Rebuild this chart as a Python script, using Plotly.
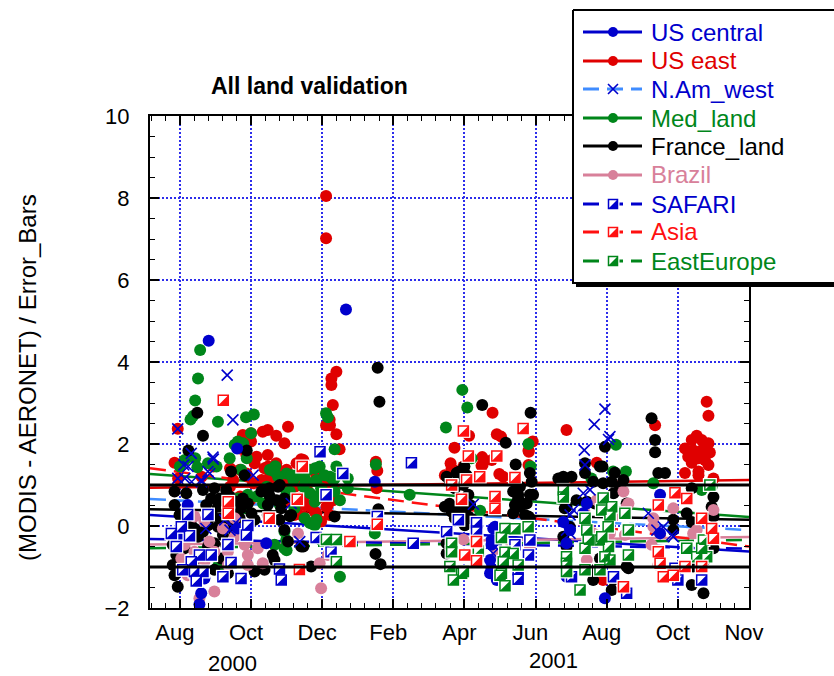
import plotly.graph_objects as go

# ---------------------------------------------------------------------------
# Data: x = months since 1 Aug 2000, y = (MODIS - AERONET) / error bar
# ---------------------------------------------------------------------------
US_CENTRAL = [
    (0.81, 4.52), (4.67, 5.28), (1.61, 1.89), (5.48, 1.08), (2.43, -0.42), (0.60, -1.64),
    (0.55, -1.91), (0.22, 0.51), (0.04, -0.22), (0.69, -1.28), (1.63, -0.06), (0.32, -0.87),
    (8.81, -0.06), (8.72, -1.15), (8.91, -1.32), (8.77, -0.34), (8.72, -0.83), (8.76, -1.03),
    (8.76, -0.46), (8.86, -0.02), (10.78, 0.10), (10.97, -0.10), (10.87, -0.42), (11.44, 0.55),
    (11.34, 0.31), (10.87, -1.24), (11.95, -1.76), (13.50, 0.76), (13.50, -0.18),
]

US_EAST = [
    (-0.06, 2.37), (1.77, 2.22), (2.00, 2.26), (2.33, 2.30), (2.47, 2.34), (2.71, 2.20),
    (2.94, 2.02), (3.04, 2.42), (2.00, 2.06), (4.40, 3.76), (4.26, 3.60), (4.26, 3.44),
    (4.30, 2.95), (4.21, 2.59), (4.11, 2.46), (4.40, 2.24), (4.22, 2.46), (4.11, 8.05),
    (4.11, 7.02), (-0.15, 1.54), (2.47, 1.73), (2.71, 1.53), (2.38, 1.41), (2.10, 1.53),
    (4.49, 1.87), (3.41, 1.63), (-0.05, 1.16), (0.61, 1.20), (0.94, 1.45), (1.41, 1.41),
    (1.69, 1.89), (1.87, 1.73), (2.16, 1.69), (2.48, 1.45), (2.72, 1.41), (3.00, 1.37),
    (3.28, 1.53), (3.47, 1.61), (3.66, 1.37), (3.84, 1.20), (4.03, 1.08), (4.31, 0.96),
    (3.37, 1.12), (3.23, 0.96), (3.00, 1.08), (2.76, 1.08), (2.53, 1.20), (2.30, 1.12),
    (2.06, 1.04), (1.87, 1.28), (1.69, 1.37), (1.50, 1.12), (1.41, 0.96), (3.47, 0.63),
    (3.66, 0.47), (3.28, 0.39), (3.00, 0.63), (3.84, 0.31), (3.47, 0.23), (4.12, 0.47),
    (4.31, 0.63), (1.69, 0.72), (1.41, 0.63), (1.97, 0.63), (3.04, 1.16), (3.32, 1.00),
    (3.60, 0.84), (3.88, 0.67), (4.16, 0.51), (3.51, 0.51), (3.79, 0.35), (3.22, 0.27),
    (3.97, 0.11), (4.21, 0.27), (3.69, 0.07), (3.36, 0.67), (3.04, 0.59), (2.66, 1.16),
    (1.44, 1.37), (1.91, 1.20), (2.38, 1.08), (5.51, 1.57), (5.55, 1.35), (5.53, 0.92),
    (8.79, 2.76), (8.13, 2.20), (8.91, 2.24), (9.03, 2.18), (9.92, 2.06), (9.80, 1.84),
    (7.72, 1.91), (8.50, 1.68), (8.77, 1.61), (8.51, 1.49), (9.80, 1.49), (9.81, 1.81),
    (8.48, 1.47), (8.98, 1.27), (9.09, 1.20), (7.61, 1.53), (7.67, 1.37), (7.45, 1.24),
    (7.64, 1.41), (7.97, 1.45), (10.87, 2.34), (11.72, 1.54), (11.90, -1.32), (13.36, 2.46),
    (14.81, 3.03), (14.86, 2.69), (14.53, 2.20), (14.39, 2.10), (14.67, 2.10), (14.86, 2.02),
    (14.20, 1.89), (14.43, 1.85), (14.67, 1.85), (14.90, 1.79), (14.29, 1.69), (14.58, 1.65),
    (14.76, 1.61), (14.39, 1.54), (14.86, 1.49), (14.20, 1.29), (14.58, 1.24), (14.58, 1.33),
    (15.00, 1.16),
]

NAM_WEST = [
    (1.33, 3.68), (1.49, 2.59), (-0.06, 2.37), (0.32, 1.77), (0.93, 1.68), (0.11, 1.49),
    (0.23, 1.45), (0.14, 1.16), (0.94, 1.63), (0.84, 1.28), (0.61, 1.08), (0.33, 1.08),
    (2.06, 1.24), (0.73, -0.06), (1.57, 0.08), (1.41, -0.10), (3.37, -0.38), (-0.06, 1.16),
    (0.60, 1.12), (0.79, 1.33), (1.49, -0.02), (1.26, 0.15), (3.13, 0.55), (8.25, 0.53),
    (8.76, -0.42), (8.81, -0.67), (11.95, 2.85), (11.65, 2.48), (12.09, 2.18), (12.05, 2.11),
    (11.37, 1.85), (11.39, 1.49), (10.97, 0.27), (11.06, 0.39), (11.34, 0.80), (11.53, 0.88),
    (10.87, -0.10), (10.97, -0.18), (13.17, 0.31), (13.41, -0.10), (13.59, -0.02),
    (13.83, -0.22), (13.87, -0.26),
]

MED_LAND = [
    (0.57, 4.29), (0.51, 3.60), (0.43, 3.06), (0.30, 2.60), (0.37, 2.68), (1.07, 2.54),
    (1.86, 2.65), (2.08, 2.72), (2.00, 2.26), (1.63, 2.06), (1.54, 1.98), (4.11, 2.75),
    (4.16, 2.65), (0.43, 1.65), (0.49, 1.43), (0.79, 1.53), (1.40, 1.65), (1.88, 1.65),
    (2.68, 1.46), (3.93, 1.45), (4.35, 1.87), (0.28, 1.69), (1.03, 1.45), (1.64, 1.93),
    (1.78, 2.02), (3.00, 1.28), (3.28, 1.24), (3.61, 1.37), (3.80, 1.41), (4.22, 1.20),
    (4.40, 1.45), (3.19, 1.12), (3.56, 1.08), (3.84, 1.12), (3.47, 0.96), (3.66, 0.80),
    (3.00, 0.80), (2.44, 0.96), (2.16, 0.72), (1.87, 0.59), (2.34, 0.55), (2.81, 0.51),
    (3.09, 0.84), (2.53, 1.37), (2.76, 1.20), (3.84, 0.72), (4.31, 1.12), (4.50, 0.63),
    (3.84, 0.15), (3.66, 0.07), (3.00, -0.59), (4.50, -1.24), (2.66, 1.33), (3.13, 1.24),
    (3.51, 1.16), (4.07, 1.24), (4.35, 1.16), (4.72, 1.16), (3.97, 0.92), (4.35, 0.84),
    (4.72, 0.92), (3.79, 0.59), (3.22, 0.43), (3.51, 0.19), (2.94, -0.14), (2.66, -0.46),
    (1.91, 0.76), (1.63, 0.67), (1.82, 0.43), (1.54, 0.27), (2.94, -0.54), (1.07, -0.99),
    (3.97, -0.34), (3.79, 0.02), (2.99, -0.34), (1.72, 1.37), (0.14, 1.61), (0.00, 1.45),
    (5.48, -0.18), (6.46, 0.76), (5.51, 1.50), (7.94, 3.32), (8.08, 2.89), (7.48, 2.40),
    (9.80, 2.00), (9.86, 1.45), (8.20, 1.65), (8.44, 0.37), (9.79, 0.19), (12.26, 1.98),
    (12.54, 1.33), (11.57, 1.16), (12.18, 1.33), (13.31, 1.04), (14.67, 0.88), (14.95, 0.96),
]

FRANCE_LAND = [
    (0.49, 2.76), (0.65, 2.20), (0.24, 1.84), (1.88, 1.84), (5.56, 3.86), (5.61, 3.03),
    (1.44, 1.33), (1.82, 1.24), (-0.15, 0.84), (0.18, 0.80), (0.65, 0.88), (0.97, 0.92),
    (1.30, 0.88), (1.40, 0.72), (1.12, 0.67), (0.88, 0.67), (0.74, 0.51), (1.07, 0.47),
    (1.35, 0.51), (1.58, 0.59), (1.77, 0.67), (1.91, 0.55), (1.72, 0.43), (1.44, 0.35),
    (1.16, 0.19), (0.93, 0.23), (0.79, 0.02), (1.07, -0.02), (1.40, 0.07), (1.68, 0.19),
    (2.01, 0.31), (2.10, 0.15), (1.87, -0.06), (1.54, -0.14), (1.21, -0.22), (0.97, -0.42),
    (1.30, -0.46), (0.79, -0.50), (0.51, -0.26), (0.41, -0.06), (0.13, 0.02), (-0.15, 0.51),
    (-0.01, 0.27), (0.32, 0.15), (0.65, -0.14), (0.88, -0.67), (1.16, -0.79), (0.51, -0.71),
    (0.13, -0.54), (-0.20, -0.46), (-0.10, -0.71), (-0.20, -0.95), (-0.15, -1.20),
    (-0.06, -1.48), (0.32, -1.20), (0.65, -0.99), (0.97, -1.07), (1.35, -1.15), (2.10, -1.11),
    (2.38, -1.07), (2.61, -0.71), (2.66, -0.83), (2.94, -0.10), (3.04, -0.38), (3.41, -0.50),
    (3.69, -0.99), (2.29, 0.84), (2.52, 0.92), (2.76, 0.96), (2.94, 0.67), (2.47, 0.51),
    (2.85, 0.43), (3.13, 0.27), (2.47, 0.27), (2.80, 0.15), (4.35, 0.23), (2.53, 0.72),
    (2.81, 1.00), (2.72, 0.63), (3.09, 0.24), (3.47, -0.50), (5.50, -0.68), (5.64, -0.93),
    (5.58, 0.41), (8.50, 2.95), (9.86, 2.76), (9.16, 2.03), (9.44, 1.50), (8.00, 1.45),
    (7.86, 1.33), (7.50, 1.20), (7.78, 1.29), (9.84, 1.29), (9.89, 1.08), (9.84, 0.76),
    (9.56, 0.96), (9.51, 0.76), (9.47, 0.55), (9.37, 0.31), (9.56, 0.47), (9.75, 0.55),
    (9.80, 0.23), (8.06, 1.24), (7.97, 1.00), (8.16, 0.51), (8.01, 0.35), (8.11, 0.23),
    (7.58, 0.54), (7.73, 0.43), (7.50, -0.67), (7.59, 1.04), (7.73, 0.92), (7.45, 0.47),
    (7.64, 0.35), (7.92, 0.27), (8.01, 0.02), (7.73, 0.19), (8.11, 0.76), (8.01, 1.16),
    (7.83, 0.43), (7.50, -0.42), (9.42, 0.51), (9.70, 0.27), (9.51, 0.67), (9.84, 0.19),
    (9.93, 0.76), (9.37, 0.84), (10.78, 1.20), (11.01, 1.20), (11.39, 1.53), (11.39, 1.29),
    (11.81, 1.45), (11.95, 1.93), (11.88, 1.45), (12.23, 1.30), (11.62, 1.08), (11.90, 1.04),
    (12.47, 1.12), (10.78, 0.80), (10.87, 0.47), (11.15, 0.63), (11.44, 0.59), (11.67, 0.55),
    (12.19, 0.80), (12.37, 0.96), (12.56, 0.55), (10.78, -0.26), (10.87, -0.50),
    (11.62, -1.32), (12.19, -1.32), (12.14, -1.56), (12.56, -0.99), (12.61, -1.03),
    (11.81, -0.79), (11.67, -1.07), (10.64, 1.16), (10.82, 1.16), (12.14, 1.08), (10.82, 0.43),
    (10.96, -0.02), (13.26, 2.63), (13.36, 2.10), (13.36, 1.80), (13.45, 1.29), (13.64, 1.29),
    (14.39, 0.92), (15.00, 0.71), (14.95, 0.47), (15.00, 0.23), (14.25, 0.31), (14.39, 0.10),
    (13.87, 0.15), (13.87, -0.10), (14.39, -1.44), (14.72, -1.64), (14.43, -0.99),
    (15.00, -0.54), (14.76, -0.83),
]

BRAZIL = [
    (0.41, 0.23), (0.69, 0.11), (1.21, -0.06), (1.54, -0.26), (1.82, -0.46), (2.19, -0.54),
    (1.91, -0.71), (1.35, -0.63), (0.97, -0.63), (0.69, -0.87), (0.41, -0.63), (0.13, -0.46),
    (0.04, -0.79), (0.22, -1.20), (0.51, -1.28), (0.97, -1.60), (1.35, -0.95), (0.83, -0.38),
    (1.54, 0.19), (1.72, -0.14), (1.91, -0.95), (2.33, -0.91), (3.32, -0.18), (3.93, -0.91),
    (3.97, -0.30), (4.16, -0.71), (3.97, -1.52), (4.82, -0.38), (0.55, -1.76), (7.97, -0.33),
    (8.91, -0.67), (9.84, -0.50), (9.32, -0.46), (11.72, 0.63), (12.47, 0.84), (12.56, 0.47),
    (11.39, 0.31), (11.62, -0.18), (12.09, -0.18), (12.00, -0.34), (12.19, 0.23),
    (11.44, -0.83), (12.61, 0.55), (12.51, -0.22), (13.87, 0.43), (13.31, 0.19),
    (13.31, -0.02), (14.53, -0.10), (15.00, 0.39), (14.43, -0.18), (13.26, -0.46),
    (13.45, -0.95),
]

SAFARI = [
    (0.22, 0.28), (0.79, 0.28), (0.04, -0.02), (-0.24, -0.18), (0.27, -0.24), (-0.10, -0.50),
    (1.91, 0.01), (1.87, -0.22), (1.35, -0.45), (0.88, -0.71), (0.55, -0.71), (0.32, -0.87),
    (0.08, -1.07), (0.41, -1.11), (0.65, -1.11), (1.44, -0.89), (1.21, -1.24), (1.72, -1.28),
    (0.46, -1.34), (2.80, -1.05), (2.85, -1.32), (4.11, 0.76), (3.83, -0.28), (4.25, -0.63),
    (4.58, 1.28), (3.94, 1.81), (6.51, 1.54), (5.55, 0.23), (6.56, -0.42), (7.83, 0.15),
    (7.50, -0.14), (8.34, 0.08), (8.34, -0.12), (9.42, -0.46), (9.84, -0.34), (9.80, -0.71),
    (9.51, -1.07), (9.51, -1.30), (10.87, -0.91), (11.01, -1.24), (12.19, -1.24),
    (12.56, -1.64), (14.67, -1.32), (13.92, -1.03), (14.00, -1.32),
]

ASIA = [
    (1.22, 3.07), (3.44, 1.45), (1.36, 0.59), (1.36, 0.31), (2.51, 0.19), (3.30, 0.65),
    (3.36, -1.06), (4.78, -0.38), (5.55, 0.04), (7.97, 2.32), (9.65, 2.38), (8.11, 1.71),
    (8.91, 1.71), (7.64, 1.00), (7.92, 0.65), (8.06, 1.12), (8.43, 1.20), (8.86, 0.72),
    (8.86, 0.43), (9.42, 1.18), (8.01, -0.71), (8.34, -0.38), (8.34, -0.85), (12.47, -1.48),
    (13.92, 0.81), (14.25, 0.67), (13.45, 0.51), (14.67, 0.19), (14.95, -0.06), (15.00, -0.30),
    (13.45, -0.63), (13.59, -1.24), (13.87, -1.20), (13.50, -0.91), (14.20, -0.99),
    (14.67, -0.99),
]

EAST_EUROPE = [
    (4.12, -0.33), (4.40, -0.33), (4.40, -0.87), (7.64, -0.42), (7.64, -0.63), (7.59, -0.99),
    (7.92, -1.15), (7.69, -1.32), (7.97, -1.11), (8.39, -0.61), (9.14, -0.06), (9.42, -0.07),
    (9.79, -0.02), (9.04, -0.28), (9.14, -0.64), (9.37, -0.67), (9.09, -0.87), (9.04, -1.15),
    (9.14, -1.46), (9.51, -0.95), (9.00, -1.20), (10.78, 0.88), (10.78, 0.71), (11.39, 0.19),
    (11.44, -0.10), (11.90, 0.68), (11.86, 0.39), (12.14, 0.47), (12.09, 0.27), (12.51, 0.31),
    (12.61, -0.10), (11.48, -0.34), (11.39, -0.54), (11.81, -0.34), (12.05, -0.50),
    (11.95, -0.75), (12.09, -0.83), (12.61, -0.71), (11.81, -1.07), (11.39, -1.07),
    (10.87, -0.75), (10.87, -0.91), (10.87, -1.11), (11.25, -1.56), (12.04, -0.02),
    (11.86, -0.26), (14.90, 1.00), (14.25, -0.54), (14.72, -0.34), (14.53, -0.75),
    (14.81, -0.75), (14.67, -0.54),
]

# Linear fits per region: value at the left and at the right edge of the time axis
SERIES_NAMES = ["US central", "US east", "N.Am_west", "Med_land", "France_land",
                "Brazil", "SAFARI", "Asia", "EastEurope"]
FIT_START = [0.27, 0.93, 0.66, 1.27, 0.41, -0.45, -0.32, 1.41, -0.54]
FIT_END = [-0.62, 1.12, -0.10, 0.22, 0.15, -0.27, -0.55, -0.50, -0.34]
ERROR_ENVELOPE = [1.0, -1.0]

MONTH_TICKS = [0, 2, 4, 6, 8, 10, 12, 14, 16]
MONTH_LABELS = ["Aug", "Oct", "Dec", "Feb", "Apr", "Jun", "Aug", "Oct", "Nov"]
YEAR_LABELS = ["2000", "2001"]

# ---------------------------------------------------------------------------
# Styling
# ---------------------------------------------------------------------------
W, H = 834, 676
FRAME_L, FRAME_R, FRAME_T, FRAME_B = 150, 749, 116, 608
X_RANGE = [-0.84, 16.0]
Y_RANGE = [-2.0, 10.0]
PX_PER_X = (FRAME_R - FRAME_L) / (X_RANGE[1] - X_RANGE[0])
PX_PER_Y = (FRAME_B - FRAME_T) / (Y_RANGE[1] - Y_RANGE[0])

BLUE = "#0000cc"
RED = "#e00000"
BRIGHT_RED = "#ff1010"
GREEN = "#00861a"
PINK = "#d8809a"
SKY = "#3f8cff"
BLACK = "#000000"
FONT = "Liberation Sans, Arial, Helvetica, sans-serif"
DASH = "16px,8px"

FIT_STYLE = {
    "US central": (BLUE, "solid"),
    "US east": (RED, "solid"),
    "N.Am_west": (SKY, DASH),
    "Med_land": (GREEN, "solid"),
    "France_land": (BLACK, "solid"),
    "Brazil": (PINK, "solid"),
    "SAFARI": (BLUE, DASH),
    "Asia": (BRIGHT_RED, DASH),
    "EastEurope": (GREEN, DASH),
}


def xs(pts):
    return [p[0] for p in pts]


def ys(pts):
    return [p[1] for p in pts]


fig = go.Figure()

# regression lines sit underneath the symbols
for name, y0, y1 in zip(SERIES_NAMES, FIT_START, FIT_END):
    color, dash = FIT_STYLE[name]
    fig.add_trace(go.Scatter(x=X_RANGE, y=[y0, y1], mode="lines",
                             line=dict(color=color, width=2.5, dash=dash),
                             hoverinfo="skip"))

# filled circles
for pts, color in [(US_EAST, RED), (MED_LAND, GREEN), (FRANCE_LAND, BLACK),
                   (BRAZIL, PINK), (US_CENTRAL, BLUE)]:
    fig.add_trace(go.Scatter(x=xs(pts), y=ys(pts), mode="markers",
                             marker=dict(symbol="circle", size=12, color=color,
                                         line=dict(width=0)),
                             hoverinfo="skip"))

# crosses
fig.add_trace(go.Scatter(x=xs(NAM_WEST), y=ys(NAM_WEST), mode="markers",
                         marker=dict(symbol="x-thin", size=11, color=BLUE,
                                     line=dict(color=BLUE, width=1.6)),
                         hoverinfo="skip"))


def add_half_squares(pts, color, half_px, xref_scale, yref_scale, xaxis="x", yaxis="y",
                     y_down=False, size=10, halo=14):
    """Open square whose lower-right half is filled, with a thin white halo."""
    x, y = xs(pts), ys(pts)
    fig.add_trace(go.Scatter(x=x, y=y, mode="markers", xaxis=xaxis, yaxis=yaxis,
                             marker=dict(symbol="square", size=halo, color="white",
                                         line=dict(width=0)),
                             hoverinfo="skip"))
    fig.add_trace(go.Scatter(x=x, y=y, mode="markers", xaxis=xaxis, yaxis=yaxis,
                             marker=dict(symbol="square", size=size, color="white",
                                         line=dict(color=color, width=1.5)),
                             hoverinfo="skip"))
    hx = half_px / xref_scale
    hy = half_px / yref_scale
    sgn = -1 if y_down else 1
    tx, ty = [], []
    for a, b in zip(x, y):
        tx += [a + hx, a + hx, a - hx, None]
        ty += [b + sgn * hy, b - sgn * hy, b - sgn * hy, None]
    fig.add_trace(go.Scatter(x=tx, y=ty, mode="lines", xaxis=xaxis, yaxis=yaxis,
                             fill="toself", fillcolor=color, line=dict(width=0),
                             hoverinfo="skip"))


add_half_squares(SAFARI, BLUE, 5, PX_PER_X, PX_PER_Y)
add_half_squares(EAST_EUROPE, GREEN, 5, PX_PER_X, PX_PER_Y)
add_half_squares(ASIA, BRIGHT_RED, 5, PX_PER_X, PX_PER_Y)

# +/- 1 expected-error envelope on top
for level in ERROR_ENVELOPE:
    fig.add_trace(go.Scatter(x=X_RANGE, y=[level, level], mode="lines",
                             line=dict(color=BLACK, width=3), hoverinfo="skip"))

# ---------------------------------------------------------------------------
# Legend panel, drawn on a page-pixel overlay so it covers the plot corner
# ---------------------------------------------------------------------------
BOX_L, BOX_T, BOX_B = 573, 10, 283
LEG_ROWS = [32, 61, 89, 118, 146, 175, 204, 232, 261]
LEG_LINE = [583, 642]
LEG_MARK_X = 613
LEG_TEXT_X = 649
LEG_TEXT_COLORS = [BLUE, RED, BLUE, GREEN, BLACK, PINK, BLUE, BRIGHT_RED, GREEN]
LEG_MARKERS = ["circle", "circle", "x", "circle", "circle", "circle", "half", "half", "half"]
LEG_MARK_COLORS = [BLUE, RED, BLUE, GREEN, BLACK, PINK, BLUE, BRIGHT_RED, GREEN]

fig.add_trace(go.Scatter(x=[BOX_L + 3, W + 10, W + 10, BOX_L + 3, BOX_L + 3],
                         y=[BOX_T + 3, BOX_T + 3, BOX_B + 4, BOX_B + 4, BOX_T + 3],
                         mode="lines", fill="toself", fillcolor=BLACK,
                         line=dict(width=0), xaxis="x2", yaxis="y2", hoverinfo="skip"))
fig.add_trace(go.Scatter(x=[BOX_L, W + 10, W + 10, BOX_L, BOX_L],
                         y=[BOX_T, BOX_T, BOX_B, BOX_B, BOX_T],
                         mode="lines", fill="toself", fillcolor="white",
                         line=dict(color=BLACK, width=2), xaxis="x2", yaxis="y2",
                         hoverinfo="skip"))

for name, row, tcol, mkind, mcol in zip(SERIES_NAMES, LEG_ROWS, LEG_TEXT_COLORS,
                                        LEG_MARKERS, LEG_MARK_COLORS):
    lcol, dash = FIT_STYLE[name]
    fig.add_trace(go.Scatter(x=LEG_LINE, y=[row, row], mode="lines",
                             line=dict(color=lcol, width=3, dash=dash),
                             xaxis="x2", yaxis="y2", hoverinfo="skip"))
    if mkind == "circle":
        fig.add_trace(go.Scatter(x=[LEG_MARK_X], y=[row], mode="markers",
                                 marker=dict(symbol="circle", size=10, color=mcol),
                                 xaxis="x2", yaxis="y2", hoverinfo="skip"))
    elif mkind == "x":
        fig.add_trace(go.Scatter(x=[LEG_MARK_X], y=[row], mode="markers",
                                 marker=dict(symbol="x-thin", size=10, color=mcol,
                                             line=dict(color=mcol, width=1.6)),
                                 xaxis="x2", yaxis="y2", hoverinfo="skip"))
    else:
        add_half_squares([(LEG_MARK_X, row)], mcol, 4.5, 1.0, 1.0, xaxis="x2",
                         yaxis="y2", y_down=True, size=9, halo=13)

annotations = []
for name, row, tcol in zip(SERIES_NAMES, LEG_ROWS, LEG_TEXT_COLORS):
    annotations.append(dict(text=name, x=LEG_TEXT_X / W, y=1 - row / H,
                            xref="paper", yref="paper", xanchor="left", yanchor="middle",
                            showarrow=False, font=dict(size=24, color=tcol, family=FONT)))

annotations += [
    dict(text="<b>All land validation</b>", x=309 / W, y=1 - 86 / H, xref="paper",
         yref="paper", xanchor="center", yanchor="middle", showarrow=False,
         font=dict(size=23, color=BLACK, family=FONT)),
    dict(text="(MODIS - AERONET) / Error_Bars", x=27 / W, y=1 - 378 / H, xref="paper",
         yref="paper", xanchor="center", yanchor="middle", textangle=-90, showarrow=False,
         font=dict(size=24, color=BLACK, family=FONT)),
    dict(text=YEAR_LABELS[0], x=232 / W, y=1 - 663 / H, xref="paper", yref="paper",
         xanchor="center", yanchor="middle", showarrow=False,
         font=dict(size=22, color=BLACK, family=FONT)),
    dict(text=YEAR_LABELS[1], x=553 / W, y=1 - 660 / H, xref="paper", yref="paper",
         xanchor="center", yanchor="middle", showarrow=False,
         font=dict(size=22, color=BLACK, family=FONT)),
]

GRID = dict(showgrid=True, gridcolor="rgb(45,45,235)", gridwidth=2, griddash="2px,2px")
AXLINE = dict(showline=True, linecolor=BLACK, linewidth=2, mirror="ticks", zeroline=False,
              ticks="inside", tickcolor=BLACK, tickwidth=1.5, fixedrange=True,
              automargin=False, tickfont=dict(size=22, color=BLACK, family=FONT))

fig.update_layout(
    width=W, height=H,
    autosize=False,
    margin=dict(l=0, r=0, t=0, b=0, pad=0, autoexpand=False),
    paper_bgcolor="white",
    plot_bgcolor="rgba(0,0,0,0)",
    showlegend=False,
    font=dict(family=FONT, color=BLACK),
    xaxis=dict(domain=[FRAME_L / W, FRAME_R / W], range=X_RANGE, tickmode="array",
               tickvals=MONTH_TICKS, ticktext=MONTH_LABELS, ticklen=9,
               ticklabelstandoff=4, ticklabelshift=-5,
               minor=dict(tickmode="linear", tick0=0, dtick=0.4, ticks="inside",
                          ticklen=5, tickcolor=BLACK, tickwidth=1, showgrid=False),
               **GRID, **AXLINE),
    yaxis=dict(domain=[1 - FRAME_B / H, 1 - FRAME_T / H], range=Y_RANGE, tickmode="linear",
               tick0=0, dtick=2, ticklen=9, ticklabelstandoff=14,
               minor=dict(tickmode="linear", tick0=0, dtick=0.5, ticks="inside",
                          ticklen=5, tickcolor=BLACK, tickwidth=1, showgrid=False),
               **GRID, **AXLINE),
    xaxis2=dict(domain=[0, 1], range=[0, W], visible=False, anchor="y2", fixedrange=True),
    yaxis2=dict(domain=[0, 1], range=[H, 0], visible=False, anchor="x2", fixedrange=True),
    annotations=annotations,
)

fig.write_html("out.html")
